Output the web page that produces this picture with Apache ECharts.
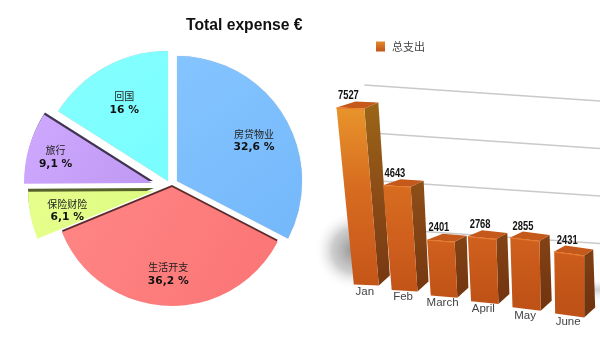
<!DOCTYPE html>
<html>
<head>
<meta charset="utf-8">
<title>Total expense</title>
<style>
  html, body { margin: 0; padding: 0; background: #fff; }
  #main { width: 600px; height: 355px; }
</style>
<script src="https://cdn.jsdelivr.net/npm/echarts@6/dist/echarts.min.js"></script>
</head>
<body>
<div id="main"></div>
<script>
  // pie data
  var sliceNames = ['房贷物业', '生活开支', '保险财险', '旅行', '回国'];
  var sliceShares = [32.6, 36.2, 6.1, 9.1, 16];

  // bar data
  var months = ['Jan', 'Feb', 'March', 'April', 'May', 'June'];
  var monthTotals = [7527, 4643, 2401, 2768, 2855, 2431];
  var wallTicks = [2000, 4000, 6000, 8000];

  // look of each slice, every one is its own pie so it can be pulled out alone
  var sliceCenters = [[177, 181], [172, 187], [154, 191], [152, 183], [168, 181]];
  var sliceRadii = [125, 119, 126, 128, 130];
  var sliceColors = [
    ['#84c4ff', '#74b8fb'], ['#ff8686', '#fb7474'], ['#e6ff8c', '#dcfb80'],
    ['#cfa9ff', '#bf98f2'], ['#86ffff', '#78fdff']
  ];
  var sliceEdges = [
    { color: 'rgba(90,110,130,0.55)', x: 0, y: 0, blur: 1 },
    { color: '#5c2c2c', x: 0, y: -2, blur: 0 },
    { color: '#55622c', x: 0, y: -3, blur: 0 },
    { color: '#3e3350', x: 1, y: -2, blur: 0 },
    { color: 'rgba(90,120,130,0.45)', x: 0, y: 0, blur: 1 }
  ];
  var labelShifts = [[21, -6], [-1, 25], [-22, 7], [-32, -7], [-11, -18]];

  // fake perspective of the bars
  var depthScale = [1, 0.96, 0.99, 1, 1.04, 1.085];

  function percentText(v) {
    return String(v).replace('.', ',') + ' %';
  }

  var series = [];
  var used = 0;
  sliceShares.forEach(function (share, i) {
    series.push({
      type: 'pie',
      silent: true,
      animation: false,
      center: sliceCenters[i],
      radius: [0, sliceRadii[i]],
      startAngle: 90 - used * 3.6,
      labelLine: { show: false },
      labelLayout: { dx: labelShifts[i][0], dy: labelShifts[i][1] },
      z: i === 1 ? 3 : 2,
      data: [
        {
          name: sliceNames[i],
          value: share,
          itemStyle: {
            color: new echarts.graphic.LinearGradient(0, 0, 1, 1, [
              { offset: 0, color: sliceColors[i][0] },
              { offset: 1, color: sliceColors[i][1] }
            ]),
            shadowColor: sliceEdges[i].color,
            shadowOffsetX: sliceEdges[i].x,
            shadowOffsetY: sliceEdges[i].y,
            shadowBlur: sliceEdges[i].blur
          },
          label: {
            show: true,
            position: 'inside',
            formatter: function (p) {
              return '{n|' + p.name + '}\n{p|' + percentText(p.value) + '}';
            },
            rich: {
              n: { fontFamily: 'Noto Sans CJK SC', fontSize: 10, color: '#222', lineHeight: 13 },
              p: { fontFamily: 'DejaVu Sans', fontWeight: 'bold', fontSize: 10.7, color: '#111', lineHeight: 14 }
            }
          }
        },
        {
          name: '',
          value: 100 - share,
          itemStyle: { color: 'rgba(0,0,0,0)' },
          label: { show: false }
        }
      ]
    });
    used += share;
  });

  // back wall lines and the soft shadows on the floor
  function renderWall(params, api) {
    var v = api.value(0);
    var right = api.getWidth();
    var y0 = api.coord([0, 0])[1];
    var h = (y0 - api.coord([0, v])[1]) * 1.01;
    var left = api.coord([0, 0])[0] - 2;
    var y = y0 + 6 - h;
    var line = {
      type: 'line',
      shape: { x1: left, y1: y - (right - left) * 0.068, x2: right, y2: y },
      style: { stroke: '#c9c9c9', lineWidth: 1.5 }
    };
    if (params.dataIndex !== 0) return line;
    return {
      type: 'group',
      children: [
        {
          type: 'rect',
          shape: { x: left - 50, y: y0 - 85, width: 80, height: 105 },
          style: {
            fill: {
              type: 'radial', x: 0.5, y: 0.48, r: 0.5,
              colorStops: [
                { offset: 0, color: 'rgba(125,125,125,0.85)' },
                { offset: 0.55, color: 'rgba(165,165,165,0.55)' },
                { offset: 1, color: 'rgba(255,255,255,0)' }
              ]
            }
          }
        },
        {
          type: 'rect',
          shape: { x: right - 12, y: y0 - 4, width: 12, height: 22 },
          style: {
            fill: {
              type: 'linear', x: 0, y: 0, x2: 0, y2: 1,
              colorStops: [
                { offset: 0, color: 'rgba(200,200,200,0)' },
                { offset: 0.4, color: 'rgba(190,190,190,0.7)' },
                { offset: 1, color: 'rgba(255,255,255,0)' }
              ]
            }
          }
        },
        line
      ]
    };
  }

  // one pseudo 3D bar: side, top, front, then its value and month
  function renderBar(params, api) {
    var i = params.dataIndex;
    var v = api.value(1);
    var base = api.coord([i, 0]);
    var top = api.coord([i, v]);
    var h = (base[1] - top[1]) * depthScale[i];
    var cx = base[0] - i * (5 - i) * 0.6;
    var by = base[1] + 5.6 * i + 0.1 * i * i;
    var bw = 25 + 0.8 * i;
    var tw = bw + h * 0.016;
    var tx = cx - h * (0.09 - 0.0165 * i);
    var ty = by - h;
    var rake = 1 + 0.6 * i;

    var fl = [cx - bw / 2, by - rake / 2];
    var fr = [cx + bw / 2, by + rake / 2];
    var tl = [tx - tw / 2, ty - rake / 2];
    var trr = [tx + tw / 2, ty + rake / 2];
    var backR = [trr[0] + 14 - i, trr[1] - 6];
    var backL = [tl[0] + 19 - 1.6 * i, tl[1] - 6];
    var floorR = [fr[0] + 11, fr[1] - 10];

    var frontFill = {
      type: 'linear', x: 0, y: 108, x2: 0, y2: 300, global: true,
      colorStops: [
        { offset: 0, color: '#e8942b' },
        { offset: 0.4, color: '#d76d20' },
        { offset: 0.7, color: '#cf5f1d' },
        { offset: 1, color: '#bf5216' }
      ]
    };
    var sideFill = {
      type: 'linear', x: 0, y: 104, x2: 0, y2: 300, global: true,
      colorStops: [
        { offset: 0, color: '#9a6518' },
        { offset: 0.5, color: '#8a4a17' },
        { offset: 1, color: '#733510' }
      ]
    };

    return {
      type: 'group',
      children: [
        { type: 'polygon', shape: { points: [trr, backR, floorR, fr] }, style: { fill: sideFill } },
        { type: 'polygon', shape: { points: [tl, backL, backR, trr] }, style: { fill: '#c5581b' } },
        { type: 'polygon', shape: { points: [tl, trr, fr, fl] }, style: { fill: frontFill } },
        {
          type: 'line',
          shape: { x1: tl[0], y1: tl[1] + 0.5, x2: trr[0], y2: trr[1] + 0.5 },
          style: { stroke: '#ea7a2c', lineWidth: 1 }
        },
        {
          type: 'text',
          x: tx - 2,
          y: ty - 13,
          scaleX: 0.72,
          style: {
            text: String(v), align: 'center', verticalAlign: 'middle',
            font: 'bold 13px "Liberation Sans", sans-serif', fill: '#111'
          }
        },
        {
          type: 'text',
          style: {
            text: months[i], x: cx - 1.5, y: by + 6.5, align: 'center', verticalAlign: 'middle',
            font: '11.5px "Liberation Sans", sans-serif', fill: '#444'
          }
        }
      ]
    };
  }

  series.push({
    type: 'custom',
    name: 'wall',
    silent: true,
    animation: false,
    renderItem: renderWall,
    clip: false,
    z: 1,
    data: wallTicks.map(function (t) { return [t]; })
  });
  series.push({
    type: 'custom',
    name: '总支出',
    silent: true,
    animation: false,
    renderItem: renderBar,
    encode: { x: 0, y: 1 },
    clip: false,
    z: 4,
    itemStyle: {
      color: new echarts.graphic.LinearGradient(0, 0, 0, 1, [
        { offset: 0, color: '#e08a2a' },
        { offset: 1, color: '#c2541a' }
      ])
    },
    data: months.map(function (m, i) { return [i, monthTotals[i]]; })
  });

  var myChart = echarts.init(document.getElementById('main'), null, { renderer: 'canvas' });
  myChart.setOption({
    animation: false,
    backgroundColor: '#fff',
    title: {
      text: 'Total expense €',
      left: 181,
      top: 13,
      textStyle: { fontFamily: 'Liberation Sans', fontWeight: 'bold', fontSize: 15.7, color: '#111' }
    },
    legend: {
      data: ['总支出'],
      left: 371,
      top: 36,
      icon: 'rect',
      itemWidth: 9,
      itemHeight: 10,
      textStyle: { fontFamily: 'Noto Sans CJK SC', fontSize: 11, color: '#444', padding: [0, 0, 0, 2] }
    },
    grid: { left: 346, right: 10, top: 97, height: 188 },
    xAxis: { type: 'category', data: months, show: false },
    yAxis: { type: 'value', min: 0, max: 8000, show: false },
    series: series
  });
</script>
</body>
</html>
